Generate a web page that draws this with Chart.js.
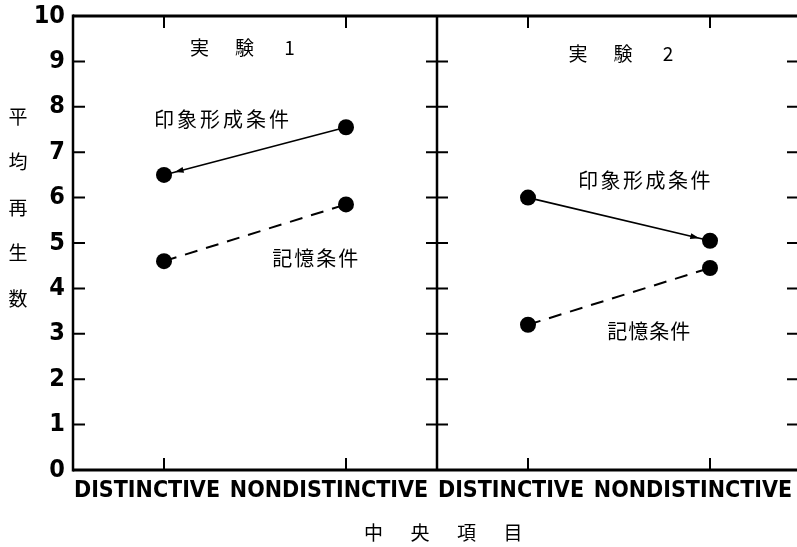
<!DOCTYPE html>
<html>
<head>
<meta charset="utf-8">
<script src="https://cdn.jsdelivr.net/npm/chart.js@4.4.1/dist/chart.umd.min.js"></script>
<style>
  html, body { margin: 0; padding: 0; background: #fff; overflow: hidden; }
  /* the scan cuts off the right frame edge, so the canvas is a bit wider than the view */
  #wrap { position: relative; width: 797px; height: 547px; overflow: hidden; }
  #recall { position: absolute; left: 0; top: 0; }
</style>
</head>
<body>
<div id="wrap"><canvas id="recall" width="803" height="547"></canvas></div>
<script>
// categories: two panels (実験1, 実験2), each with two central-item types
const centerItems = ['DISTINCTIVE', 'NONDISTINCTIVE', 'DISTINCTIVE', 'NONDISTINCTIVE'];
const yTicks = [0, 1, 2, 3, 4, 5, 6, 7, 8, 9, 10];

// mean recall
const exp1Impression = [6.5, 7.55, null, null];
const exp1Memory = [4.6, 5.85, null, null];
const exp2Impression = [null, null, 6.0, 5.05];
const exp2Memory = [null, null, 3.2, 4.45];

const impressionLabel = '印象形成条件';
const memoryLabel = '記憶条件';
const panelTitles = ['実験1', '実験2'];
const yTitle = '平均再生数';
const xTitle = '中央項目';

const CJK = '"Noto Sans CJK JP", "Noto Sans", sans-serif';
const NARROW = '"Liberation Sans Narrow", "DejaVu Sans Condensed", "Liberation Sans", sans-serif';

// draw characters one by one with a fixed pitch (x = centre of first char)
function spaced(ctx, text, x, y, pitch) {
    [...text].forEach((ch, i) => ctx.fillText(ch, x + i * pitch, y));
}

function arrowHead(ctx, from, to, back) {
    const ang = Math.atan2(to.y - from.y, to.x - from.x);
    const c = Math.cos(ang), s = Math.sin(ang);
    const tx = to.x - c * back, ty = to.y - s * back;
    ctx.beginPath();
    ctx.moveTo(tx, ty);
    ctx.lineTo(tx - 9 * c + 3 * s, ty - 9 * s - 3 * c);
    ctx.lineTo(tx - 9 * c - 3 * s, ty - 9 * s + 3 * c);
    ctx.closePath();
    ctx.fill();
}

const framePlugin = {
    id: 'frame',
    afterDatasetsDraw(chart) {
        const { ctx, chartArea: a, scales: { x, y } } = chart;
        const mid = (x.getPixelForValue(1) + x.getPixelForValue(2)) / 2;
        ctx.save();
        ctx.strokeStyle = '#000';
        ctx.fillStyle = '#000';

        // outer frame + divider between the two experiments
        ctx.lineWidth = 3;
        ctx.beginPath();
        ctx.moveTo(a.left, a.top); ctx.lineTo(a.right, a.top);
        ctx.moveTo(a.left, a.bottom); ctx.lineTo(a.right, a.bottom);
        ctx.stroke();
        ctx.lineWidth = 2.5;
        ctx.beginPath();
        ctx.moveTo(a.left, a.top - 1.5); ctx.lineTo(a.left, a.bottom + 1.5);
        ctx.moveTo(mid, a.top); ctx.lineTo(mid, a.bottom);
        ctx.moveTo(a.right, a.top); ctx.lineTo(a.right, a.bottom);
        ctx.stroke();

        // tick marks
        ctx.lineWidth = 2;
        ctx.beginPath();
        yTicks.slice(1, -1).forEach(v => {
            const py = y.getPixelForValue(v);
            ctx.moveTo(a.left, py); ctx.lineTo(a.left + 12, py);
            ctx.moveTo(mid - 11, py); ctx.lineTo(mid + 11, py);
            ctx.moveTo(a.right - 14, py); ctx.lineTo(a.right, py);
        });
        centerItems.forEach((c, i) => {
            const px = x.getPixelForValue(i);
            ctx.moveTo(px, a.top); ctx.lineTo(px, a.top + 12);
            ctx.moveTo(px, a.bottom); ctx.lineTo(px, a.bottom - 12);
        });
        ctx.stroke();

        // arrow heads on the solid lines
        chart.data.datasets.forEach((ds, i) => {
            if (ds.arrowTo === undefined) return;
            const pts = chart.getDatasetMeta(i).data;
            arrowHead(ctx, pts[ds.arrowFrom], pts[ds.arrowTo], 11);
        });

        // texts
        ctx.textAlign = 'center';
        ctx.textBaseline = 'middle';
        ctx.font = '19px ' + CJK;
        [...yTitle].forEach((ch, i) => ctx.fillText(ch, 18, y.getPixelForValue(7.78 - i)));
        spaced(ctx, xTitle, x.getPixelForValue(1.535) - 1.5 * 46.5, a.bottom + 63, 46.5);
        spaced(ctx, panelTitles[0], x.getPixelForValue(0.195), y.getPixelForValue(9.29), 45);
        spaced(ctx, panelTitles[1], x.getPixelForValue(2.275), y.getPixelForValue(9.16), 45);

        ctx.font = '20px ' + CJK;
        spaced(ctx, impressionLabel, x.getPixelForValue(0), y.getPixelForValue(7.72), 23);
        spaced(ctx, impressionLabel, x.getPixelForValue(2.33), y.getPixelForValue(6.37), 22.5);
        spaced(ctx, memoryLabel, x.getPixelForValue(0.65), y.getPixelForValue(4.67), 22);
        spaced(ctx, memoryLabel, x.getPixelForValue(2.49), y.getPixelForValue(3.05), 21);
        ctx.restore();
    }
};

function lineSet(label, values, dashed, extra) {
    return Object.assign({
        label: label,
        data: values,
        borderColor: '#000',
        borderWidth: dashed ? 2 : 1.6,
        borderDash: dashed ? [13, 9] : [],
        pointRadius: 8,
        pointBackgroundColor: '#000',
        pointBorderWidth: 0,
        spanGaps: false,
        fill: false,
        tension: 0
    }, extra || {});
}

const ctx = document.getElementById('recall').getContext('2d');
new Chart(ctx, {
    type: 'line',
    data: {
        labels: centerItems,
        datasets: [
            lineSet(impressionLabel, exp1Impression, false, { arrowFrom: 1, arrowTo: 0 }),
            lineSet(memoryLabel, exp1Memory, true),
            lineSet(impressionLabel, exp2Impression, false, { arrowFrom: 2, arrowTo: 3 }),
            lineSet(memoryLabel, exp2Memory, true)
        ]
    },
    options: {
        responsive: false,
        animation: false,
        layout: { autoPadding: false, padding: { left: 0, top: 16, right: 2, bottom: 0 } },
        plugins: { legend: { display: false }, tooltip: { enabled: false } },
        scales: {
            x: {
                offset: true,
                grid: { display: false, drawTicks: false },
                border: { display: false },
                ticks: {
                    color: '#000',
                    font: { family: NARROW, size: 23, weight: 'bold' },
                    padding: 7,
                    labelOffset: -17,
                    maxRotation: 0,
                    autoSkip: false
                },
                afterFit: s => { s.height = 77; s.paddingLeft = 0; s.paddingRight = 0; }
            },
            y: {
                min: 0,
                max: 10,
                grid: { display: false, drawTicks: false },
                border: { display: false },
                afterBuildTicks: s => { s.ticks = yTicks.map(v => ({ value: v })); },
                ticks: {
                    color: '#000',
                    font: { family: NARROW, size: 25, weight: 'bold' },
                    padding: 8
                },
                afterFit: s => { s.width = 73; s.paddingTop = 0; s.paddingBottom = 0; }
            }
        }
    },
    plugins: [framePlugin]
});
</script>
</body>
</html>
